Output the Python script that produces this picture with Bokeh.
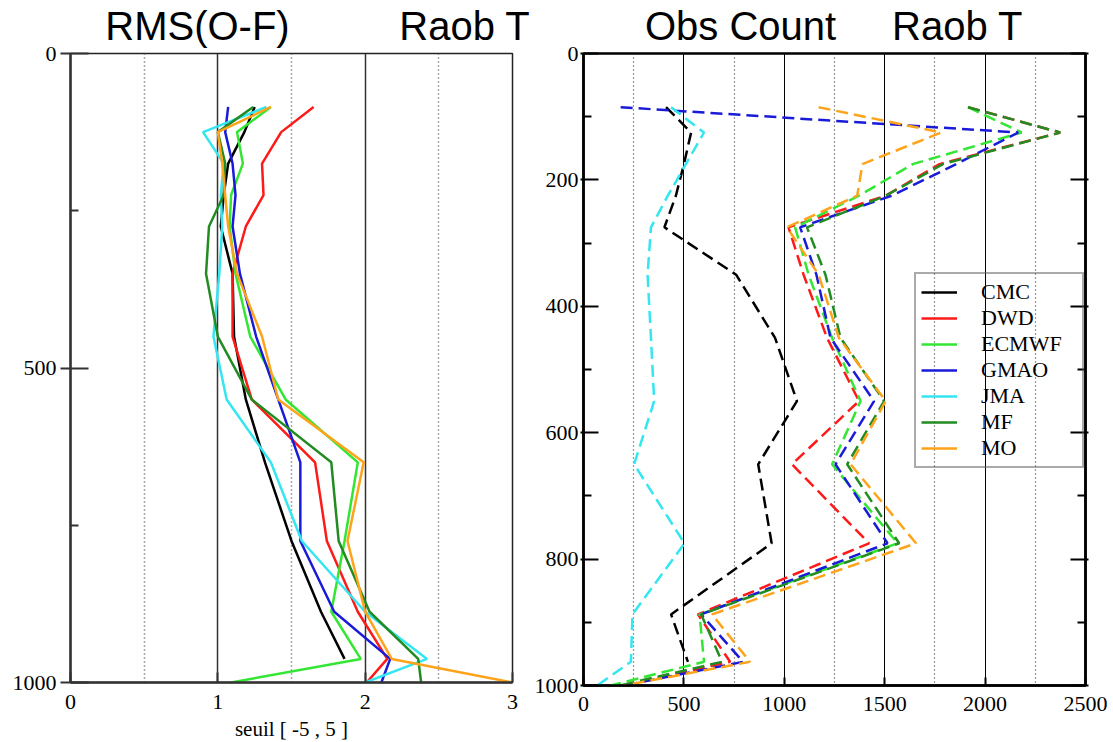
import math
from bokeh.plotting import figure
from bokeh.models import Range1d, FixedTicker, LinearAxis, Legend, LegendItem
from bokeh.layouts import row
from bokeh.embed import file_html
from bokeh.resources import INLINE

NaN = float("nan")

models = ["CMC", "DWD", "ECMWF", "GMAO", "JMA", "MF", "MO"]
colors = ["#000000", "#ff1a1a", "#33e633", "#1a1ad9", "#33e6f0", "#228b22", "#ffa31a"]

levels = [85, 125, 175, 225, 275, 350, 450, 550, 650, 775, 887.5, 962.5, 1000]

# RMS(O-F) Raob T
rms_cmc = [1.25, 1.18, 1.07, 1.04, 1.02, 1.10, 1.11, 1.19, 1.32, 1.50, 1.70, 1.86, NaN]
rms_dwd = [1.65, 1.43, 1.30, 1.31, 1.19, 1.10, 1.10, 1.23, 1.66, 1.74, 1.95, 2.15, 2.01]
rms_ecmwf = [1.36, 1.13, 1.17, 1.09, 1.08, 1.12, 1.22, 1.46, 1.95, 1.86, 1.77, 1.97, 1.09]
rms_gmao = [1.07, 1.05, 1.10, 1.12, 1.10, 1.15, 1.26, 1.41, 1.56, 1.56, 1.79, 2.17, 2.11]
rms_jma = [1.33, 0.90, 1.04, 1.02, 1.03, 1.01, 0.97, 1.06, 1.36, 1.57, 2.00, 2.42, 2.00]
rms_mf = [1.24, 1.00, 1.05, 1.04, 0.94, 0.92, 1.00, 1.23, 1.77, 1.82, 2.03, 2.36, 2.38]
rms_mo = [1.36, 1.00, 1.03, 1.05, 1.07, 1.13, 1.30, 1.41, 1.99, 1.88, 2.00, 2.18, 3.00]

# Obs Count Raob T
cnt_cmc = [411, 536, 500, 460, 403, 760, 954, 1063, 870, 937, 436, 520, NaN]
cnt_dwd = [1915, 2374, 1773, 1505, 1021, 1096, 1213, 1372, 1038, 1422, 570, 730, 200]
cnt_ecmwf = [1915, 2182, 1640, 1372, 1054, 1121, 1238, 1380, 1238, 1564, 578, 600, 135]
cnt_gmao = [185, 2165, 1856, 1535, 1079, 1160, 1230, 1447, 1255, 1514, 586, 795, 200]
cnt_jma = [436, 600, 510, 420, 336, 319, 336, 352, 252, 503, 244, 236, 68]
cnt_mf = [1915, 2374, 1790, 1505, 1113, 1205, 1280, 1497, 1313, 1572, 586, 690, 180]
cnt_mo = [1171, 1781, 1389, 1363, 1013, 1171, 1272, 1505, 1330, 1656, 640, 829, 200]

rms_series = [rms_cmc, rms_dwd, rms_ecmwf, rms_gmao, rms_jma, rms_mf, rms_mo]
cnt_series = [cnt_cmc, cnt_dwd, cnt_ecmwf, cnt_gmao, cnt_jma, cnt_mf, cnt_mo]

left_titles = ["RMS(O-F)", "Raob T"]
right_titles = ["Obs Count", "Raob T"]
left_title_pos = [0.862, 2.78]
right_title_pos = [782, 1863]

left_yticks = [0, 500, 1000]
left_yminor = [250, 750]
left_xticks = [0, 1, 2, 3]
left_xgrid = [1, 2, 3]
left_xgrid_minor = [0.5, 1.5, 2.5]

right_yticks = [0, 200, 400, 600, 800, 1000]
right_yminor = [100, 300, 500, 700, 900]
right_xticks = [0, 500, 1000, 1500, 2000, 2500]
right_xgrid = [500, 1000, 1500, 2000]
right_xgrid_minor = [250, 750, 1250, 1750, 2250]

SERIF = "Liberation Serif"
SANS = "Liberation Sans"


def title_axis(pos, texts):
    ax = LinearAxis(ticker=FixedTicker(ticks=pos),
                    major_label_overrides={p_: t for p_, t in zip(pos, texts)})
    ax.axis_line_color = None
    ax.major_tick_line_color = None
    ax.minor_tick_line_color = None
    ax.major_tick_out = 0
    ax.major_tick_in = 0
    ax.major_label_standoff = 6
    ax.major_label_text_font = SANS
    ax.major_label_text_font_size = "40px"
    ax.major_label_text_color = "black"
    return ax


# ---------------- left panel ----------------
p1 = figure(frame_width=442, frame_height=629, min_border_left=70, min_border_right=18,
            min_border_top=53, min_border_bottom=60,
            x_range=Range1d(0, 3), y_range=Range1d(1000, 0),
            output_backend="svg", toolbar_location=None)
p1.background_fill_color = "white"
p1.border_fill_color = "white"
p1.outline_line_color = "#222222"
p1.outline_line_width = 1.5

for vals, c in zip(rms_series, colors):
    p1.line(x=vals, y=levels, line_color=c, line_width=2.5)

p1.yaxis.ticker = FixedTicker(ticks=left_yticks, minor_ticks=left_yminor)
p1.xaxis.ticker = FixedTicker(ticks=left_xticks)
for ax in (p1.xaxis[0], p1.yaxis[0]):
    ax.axis_line_width = 2.5
    ax.axis_line_color = "#333333"
    ax.major_tick_line_color = "#333333"
    ax.major_tick_line_width = 2
    ax.minor_tick_line_color = "#333333"
    ax.minor_tick_line_width = 2
    ax.major_label_text_font = SERIF
    ax.major_label_text_font_size = "22px"
    ax.major_label_text_color = "black"
p1.yaxis.major_tick_in = 18
p1.yaxis.major_tick_out = 10
p1.yaxis.minor_tick_in = 8
p1.yaxis.minor_tick_out = 0
p1.yaxis.major_label_standoff = 4
p1.xaxis.major_tick_in = 10
p1.xaxis.major_tick_out = 0
p1.xaxis.minor_tick_in = 0
p1.xaxis.minor_tick_out = 0
p1.xaxis.major_label_standoff = 12
p1.xaxis.axis_label = "seuil [ -5 , 5 ]"
p1.xaxis.axis_label_text_font = SERIF
p1.xaxis.axis_label_text_font_style = "normal"
p1.xaxis.axis_label_text_font_size = "21px"
p1.xaxis.axis_label_text_color = "black"
p1.xaxis.axis_label_standoff = 5

p1.xgrid.ticker = FixedTicker(ticks=left_xgrid, minor_ticks=left_xgrid_minor)
p1.xgrid.grid_line_color = "#333333"
p1.xgrid.grid_line_width = 1.5
p1.xgrid.minor_grid_line_color = "#555555"
p1.xgrid.minor_grid_line_width = 1.5
p1.xgrid.minor_grid_line_dash = "1 3"
p1.ygrid.visible = False

p1.add_layout(title_axis(left_title_pos, left_titles), "above")

# ---------------- right panel ----------------
p2 = figure(frame_width=502, frame_height=632, min_border_left=53, min_border_right=28,
            min_border_top=53, min_border_bottom=57,
            x_range=Range1d(0, 2500), y_range=Range1d(1000, 0),
            output_backend="svg", toolbar_location=None)
p2.background_fill_color = "white"
p2.border_fill_color = "white"
p2.outline_line_color = "black"
p2.outline_line_width = 2.5

for vals, c in zip(cnt_series, colors):
    p2.line(x=vals, y=levels, line_color=c, line_width=2.5, line_dash="12 6")

p2.yaxis.ticker = FixedTicker(ticks=right_yticks, minor_ticks=right_yminor)
p2.xaxis.ticker = FixedTicker(ticks=right_xticks)
raxis = LinearAxis(ticker=FixedTicker(ticks=right_yticks, minor_ticks=right_yminor))
p2.add_layout(raxis, "right")
for ax in (p2.xaxis[0], p2.yaxis[0], raxis):
    ax.axis_line_width = 2.5
    ax.axis_line_color = "black"
    ax.major_tick_line_color = "black"
    ax.major_tick_line_width = 2
    ax.minor_tick_line_color = "black"
    ax.minor_tick_line_width = 2
    ax.major_label_text_font = SERIF
    ax.major_label_text_font_size = "22px"
    ax.major_label_text_color = "black"
raxis.major_label_text_font_size = "0px"
raxis.major_label_text_alpha = 0
raxis.major_label_standoff = 0
for ax in (p2.yaxis[0], raxis):
    ax.major_tick_in = 15
    ax.major_tick_out = 3
    ax.minor_tick_in = 8
    ax.minor_tick_out = 0
p2.yaxis.major_label_standoff = 2
p2.xaxis.major_tick_in = 8
p2.xaxis.major_tick_out = 0
p2.xaxis.minor_tick_in = 0
p2.xaxis.minor_tick_out = 0
p2.xaxis.major_label_standoff = 11

p2.xgrid.ticker = FixedTicker(ticks=right_xgrid, minor_ticks=right_xgrid_minor)
p2.xgrid.grid_line_color = "black"
p2.xgrid.grid_line_width = 1
p2.xgrid.minor_grid_line_color = "#333333"
p2.xgrid.minor_grid_line_width = 1.2
p2.xgrid.minor_grid_line_dash = "1 3"
p2.ygrid.visible = False

items = []
for name, c in zip(models, colors):
    r = p2.line(x=[NaN], y=[NaN], line_color=c, line_width=2.5)
    items.append(LegendItem(label=name, renderers=[r]))
legend = Legend(items=items, location=(331, 217), orientation="vertical",
                border_line_color="#555555", border_line_width=2,
                background_fill_alpha=0.0,
                label_text_font=SERIF, label_text_font_size="22px",
                label_text_color="black",
                glyph_width=36, glyph_height=22, label_height=22, label_width=96,
                spacing=0, padding=5, margin=0, label_standoff=24)
p2.add_layout(legend)

p2.add_layout(title_axis(right_title_pos, right_titles), "above")

layout = row(p1, p2, spacing=0)
open("out.html", "w").write(file_html(layout, INLINE))
